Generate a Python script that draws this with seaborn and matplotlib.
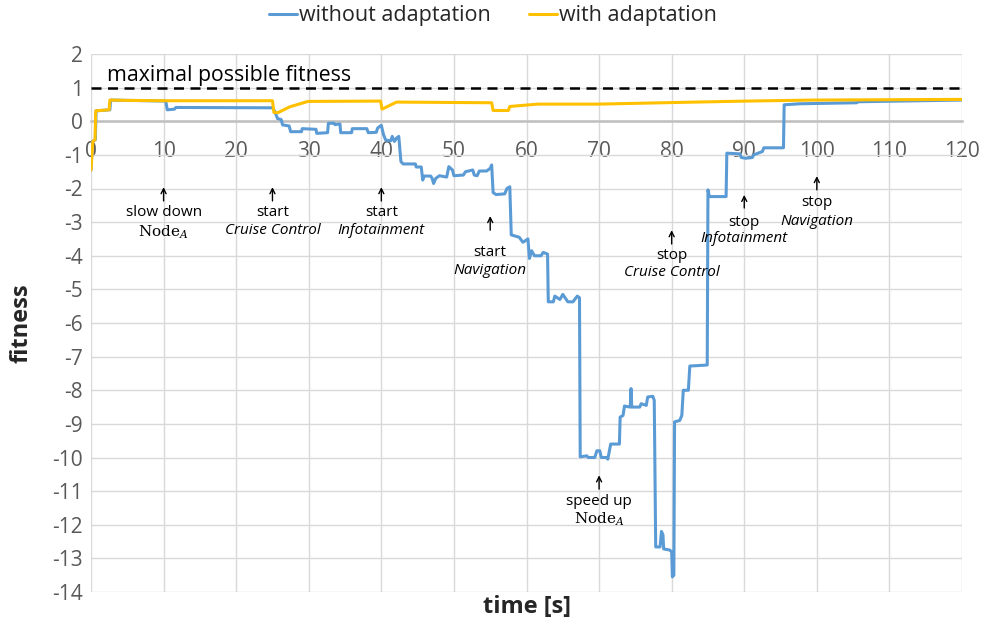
import numpy as np
import pandas as pd
import matplotlib
matplotlib.use("Agg")
import matplotlib.pyplot as plt
import seaborn as sns

# ---- data -----------------------------------------------------------------
t_without = [0, 0.2, 0.6, 0.7, 2.6, 2.7, 10.3, 10.5, 11.5, 11.7, 25.0, 25.3, 25.7, 26.2,
             26.4, 27.3, 27.5, 29.0, 29.1, 31.0, 31.1, 32.6, 32.7, 33.5, 33.6, 34.3,
             34.4, 35.9, 36.0, 38.0, 38.2, 39.3, 39.5, 40.0, 40.3, 40.6, 41.3, 41.5,
             41.8, 42.1, 42.4, 42.7, 43.0, 44.7, 44.8, 45.5, 45.7, 45.9, 46.8, 47.0,
             47.2, 47.5, 48.0, 49.0, 49.3, 49.8, 50.0, 51.3, 51.6, 52.6, 52.8, 53.2,
             53.5, 54.5, 55.0, 55.2, 55.4, 55.8, 57.0, 57.3, 57.7, 57.9, 59.0, 59.5,
             60.2, 60.4, 60.7, 61.1, 62.0, 62.3, 62.9, 63.0, 63.7, 63.9, 64.6, 65.0,
             65.7, 66.4, 67.0, 67.3, 67.4, 68.3, 68.5, 69.4, 69.7, 70.1, 70.3, 71.0,
             71.2, 71.6, 72.8, 72.9, 73.3, 73.5, 74.3, 74.4, 74.5, 75.6, 75.8, 76.5,
             76.7, 77.4, 77.6, 77.8, 78.4, 78.6, 78.8, 78.9, 79.7, 80.0, 80.1, 80.3,
             80.4, 81.1, 81.4, 81.6, 82.3, 82.5, 84.9, 85.0, 85.2, 87.5, 87.6, 89.4,
             89.6, 90.2, 91.1, 91.3, 92.5, 92.7, 95.4, 95.5, 97.7, 105.5, 105.7, 120]
f_without = [-1.45, -0.6, -0.55, 0.31, 0.34, 0.63, 0.6, 0.34, 0.36, 0.41, 0.4, 0.3, 0.08, 0.05,
             -0.11, -0.14, -0.31, -0.31, -0.22, -0.24, -0.36, -0.34, -0.06, -0.06, -0.1, -0.08,
             -0.34, -0.34, -0.22, -0.22, -0.34, -0.33, -0.2, -0.12, -0.4, -0.56, -0.58, -0.45,
             -0.6, -0.5, -0.45, -1.2, -1.27, -1.27, -1.36, -1.36, -1.75, -1.63, -1.63, -1.7,
             -1.85, -1.7, -1.62, -1.66, -1.35, -1.45, -1.62, -1.6, -1.5, -1.45, -1.6, -1.62,
             -1.48, -1.48, -1.4, -1.3, -2.12, -2.18, -2.16, -2.0, -1.95, -3.38, -3.45, -3.6,
             -3.5, -4.08, -3.85, -4.0, -4.0, -3.9, -3.95, -5.37, -5.37, -5.2, -5.3, -5.15,
             -5.37, -5.37, -5.2, -5.25, -9.98, -9.95, -10.0, -10.0, -9.8, -9.8, -10.0, -10.0,
             -10.05, -9.6, -9.6, -8.8, -8.75, -8.47, -8.5, -7.95, -8.5, -8.5, -8.4, -8.45,
             -8.2, -8.18, -8.3, -12.66, -12.66, -12.2, -12.3, -12.72, -12.75, -12.8, -13.55, -13.5,
             -8.94, -8.9, -8.75, -8.0, -8.0, -7.28, -7.25, -2.04, -2.24, -2.24, -0.95, -0.97,
             -1.08, -1.1, -1.08, -1.0, -0.9, -0.79, -0.79, 0.49, 0.52, 0.55, 0.58, 0.63]

t_with = [0, 0.25, 0.55, 0.65, 2.5, 2.6, 5.0, 10.0, 25.0, 25.2, 25.8, 27.4, 29.9, 39.9,
          40.1, 42.1, 55.2, 55.4, 57.5, 57.7, 61.6, 70.0, 81.0, 90.3, 99.5, 120]
f_with = [-1.45, -0.6, -0.55, 0.31, 0.34, 0.63, 0.62, 0.61, 0.61, 0.26, 0.26, 0.43, 0.59, 0.6,
          0.36, 0.57, 0.55, 0.32, 0.32, 0.44, 0.51, 0.51, 0.56, 0.6, 0.63, 0.65]

max_fitness = 1.0

events = ["slow down", "start", "start", "start", "speed up", "stop", "stop", "stop"]
subjects = ["Node", "Cruise Control", "Infotainment", "Navigation", "Node",
            "Cruise Control", "Infotainment", "Navigation"]
event_times = [10, 25, 40, 55, 70, 80, 90, 100]

x_ticks = list(range(0, 121, 10))
y_ticks = list(range(-14, 3))

# ---- styling ----------------------------------------------------------------
sns.set_theme(style="white")
plt.rcParams["font.family"] = ["Open Sans", "DejaVu Sans"]
plt.rcParams["axes.unicode_minus"] = False

BLUE = "#5B9BD5"
GOLD = "#FFC000"
TICK_GREY = "#595959"

fig = plt.figure(figsize=(9.81, 6.24), dpi=100)
ax = fig.add_axes([91 / 981, 1 - 592 / 624, (962 - 91) / 981, (592 - 54) / 624])

df_without = pd.DataFrame({"time": t_without, "fitness": f_without})
df_with = pd.DataFrame({"time": t_with, "fitness": f_with})

sns.lineplot(data=df_without, x="time", y="fitness", ax=ax, color=BLUE, lw=2.2,
             sort=False, estimator=None, label="without adaptation", zorder=4)
sns.lineplot(data=df_with, x="time", y="fitness", ax=ax, color=GOLD, lw=2.2,
             sort=False, estimator=None, label="with adaptation", zorder=5)

ax.axhline(max_fitness, color="black", lw=1.8, ls=(0, (4, 2.6)), zorder=3)
ax.text(2.2, max_fitness + 0.04, "maximal possible fitness", fontsize=15.3,
        color="black", ha="left", va="bottom")

# axes, grid, ticks
ax.set_xlim(0, 120)
ax.set_ylim(-14, 2)
ax.set_xticks(x_ticks)
ax.set_yticks(y_ticks)
ax.grid(True, color="#D9D9D9", lw=1)
ax.set_axisbelow(True)
for side in ["top", "right", "left"]:
    ax.spines[side].set_visible(False)
ax.spines["bottom"].set_position(("data", 0))
ax.spines["bottom"].set_color("#BFBFBF")
ax.spines["bottom"].set_linewidth(1.8)
ax.spines["bottom"].set_zorder(2)
ax.tick_params(axis="x", length=0, pad=14, labelsize=15, labelcolor=TICK_GREY)
ax.tick_params(axis="y", length=0, pad=6, labelsize=15, labelcolor=TICK_GREY)

ax.set_xlabel("")
ax.set_ylabel("")
fig.text(527 / 981, 1 - 607 / 624, "time [s]", fontsize=17, fontweight="bold",
         ha="center", va="center")
fig.text(22 / 981, 1 - 323 / 624, "fitness", fontsize=17, fontweight="bold",
         ha="center", va="center", rotation=90)

# event annotations: (arrow head, arrow tail, first line, second line) in data y
ann_y = [(-1.96, -2.37, -2.70, -3.29),
         (-1.96, -2.37, -2.70, -3.24),
         (-1.96, -2.37, -2.70, -3.24),
         (-2.82, -3.24, -3.89, -4.45),
         (-10.53, -10.94, -11.30, -11.84),
         (-3.24, -3.65, -3.98, -4.51),
         (-2.19, -2.58, -3.00, -3.50),
         (-1.63, -2.04, -2.43, -2.97)]
for ev, subj, tx, (yh, yt, y1, y2) in zip(events, subjects, event_times, ann_y):
    ax.annotate("", xy=(tx, yh), xytext=(tx, yt),
                arrowprops=dict(arrowstyle="->", lw=1.0, color="black",
                                mutation_scale=9, shrinkA=0, shrinkB=0), zorder=6)
    ax.text(tx, y1, ev, fontsize=11, ha="center", va="center", color="black", zorder=6)
    if subj == "Node":
        ax.text(tx, y2, r"$\mathrm{Node}_{A}$", fontsize=11, ha="center", va="center",
                color="black", math_fontfamily="dejavuserif", zorder=6)
    else:
        ax.text(tx, y2, subj, fontsize=11, ha="center", va="center", color="black",
                style="italic", zorder=6)

# legend above the plot
leg = ax.legend(loc="center", bbox_to_anchor=(493 / 981, 1 - 16 / 624),
                bbox_transform=fig.transFigure, ncol=2, frameon=False, fontsize=15.5,
                handlelength=1.3, handletextpad=0.1, columnspacing=1.8)
for line in leg.get_lines():
    line.set_linewidth(2.2)

fig.savefig("out.png", dpi=100)
